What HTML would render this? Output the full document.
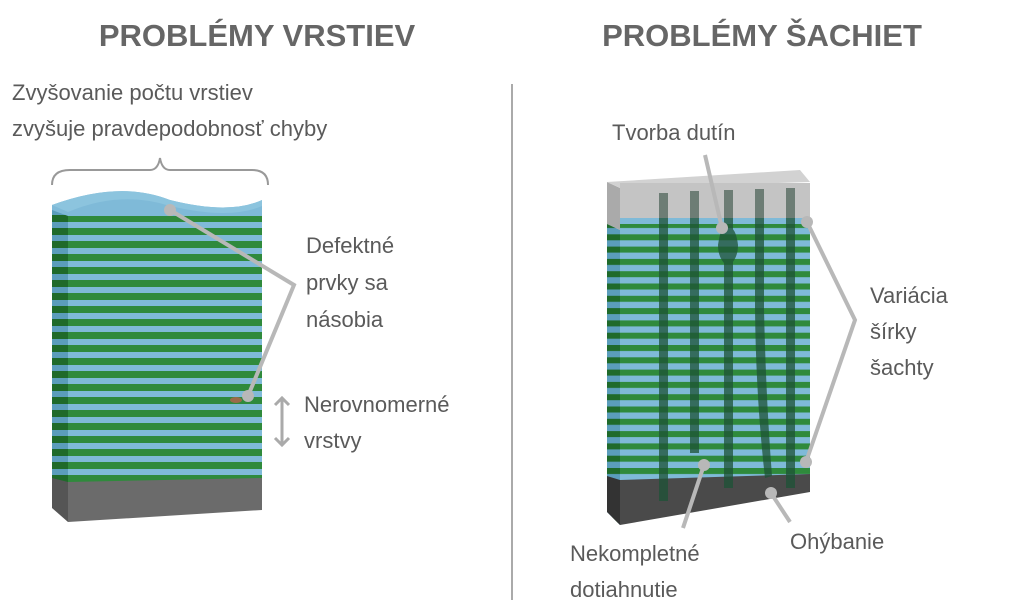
<!DOCTYPE html>
<html><head><meta charset="utf-8"><style>
html,body{margin:0;padding:0;background:#fff;}
svg{display:block}
text{font-family:"Liberation Sans",sans-serif;fill:#5a5a5a;}
.t{font-size:31px;font-weight:bold;fill:#666;}
.l{font-size:22px;}
</style></head><body>
<svg width="1024" height="616" viewBox="0 0 1024 616" xmlns="http://www.w3.org/2000/svg">
<defs>
<pattern id="st1" x="0" y="215" width="20" height="13" patternUnits="userSpaceOnUse">
<rect width="20" height="13" fill="#7fbad8"/><rect y="0" width="20" height="7" fill="#2f8a3c"/></pattern>
<pattern id="st1s" x="0" y="215" width="20" height="13" patternUnits="userSpaceOnUse">
<rect width="20" height="13" fill="#5b9dbb"/><rect y="0" width="20" height="7" fill="#1f6a2a"/></pattern>
<pattern id="st2" x="0" y="222" width="20" height="12.3" patternUnits="userSpaceOnUse">
<rect width="20" height="12.3" fill="#7fbad8"/><rect y="0" width="20" height="6" fill="#2f8a3c"/></pattern>
<pattern id="st2s" x="0" y="222" width="20" height="12.3" patternUnits="userSpaceOnUse">
<rect width="20" height="12.3" fill="#5b9dbb"/><rect y="0" width="20" height="6" fill="#1f6a2a"/></pattern>
</defs>
<text class="t" x="257" y="46" text-anchor="middle">PROBLÉMY VRSTIEV</text>
<text class="t" x="762" y="46" text-anchor="middle">PROBLÉMY ŠACHIET</text>
<line x1="512" y1="84" x2="512" y2="600" stroke="#aaa" stroke-width="2"/>
<text class="l" x="12" y="100">Zvyšovanie počtu vrstiev</text>
<text class="l" x="12" y="136">zvyšuje pravdepodobnosť chyby</text>
<path d="M52 185 Q52 170 70 170 L150 170 Q158 170 160 158 Q162 170 170 170 L252 170 Q268 170 268 185" fill="none" stroke="#999" stroke-width="2"/>
<!-- left block -->
<path d="M52 205 L68 215 L68 512 L52 500 Z" fill="url(#st1s)"/>
<rect x="68" y="212" width="194" height="270" fill="url(#st1)"/>
<path d="M52 205 Q120 180 170 200 Q230 215 262 200 L262 216 L68 216 L52 210 Z" fill="#7fbad8"/>
<path d="M52 205 Q120 180 170 200 Q230 215 262 200 L262 206 Q230 220 170 206 Q120 190 68 212 Z" fill="#8cc4de"/>
<path d="M52 478 L68 482 L68 522 L52 508 Z" fill="#555"/>
<path d="M68 482 L262 478 L262 510 L68 522 Z" fill="#6b6b6b"/>
<path d="M170 210 L294 285 L248 396" fill="none" stroke="#b8b8b8" stroke-width="4"/>
<circle cx="170" cy="210" r="6" fill="#b8b8b8"/>
<circle cx="248" cy="396" r="6" fill="#b8b8b8"/>
<ellipse cx="236" cy="400" rx="6" ry="3" fill="#9a6a4a"/>
<text class="l" x="306" y="253">Defektné</text>
<text class="l" x="306" y="290">prvky sa</text>
<text class="l" x="306" y="327">násobia</text>
<path d="M282 398 L282 445 M275 405 L282 398 L289 405 M275 438 L282 445 L289 438" fill="none" stroke="#aaa" stroke-width="3"/>
<text class="l" x="304" y="412">Nerovnomerné</text>
<text class="l" x="304" y="448">vrstvy</text>
<!-- right block -->
<path d="M607 182 L620 188 L620 230 L607 224 Z" fill="#aaa"/>
<path d="M607 182 L620 188 L810 182 L800 170 Z" fill="#d2d2d2"/>
<rect x="620" y="183" width="190" height="40" fill="#c4c4c4"/>
<path d="M607 224 L620 230 L620 525 L607 512 Z" fill="url(#st2s)"/>
<rect x="620" y="222" width="190" height="258" fill="url(#st2)"/>
<rect x="620" y="218" width="190" height="6" fill="#7fbad8"/>
<path d="M607 476 L620 480 L620 525 L607 512 Z" fill="#333"/>
<path d="M620 480 L810 474 L810 492 L620 525 Z" fill="#4a4a4a"/>
<g fill="#1d5236" opacity="0.75">
<rect x="659" y="193" width="9" height="308"/>
<rect x="690" y="191" width="9" height="262"/>
<rect x="724" y="190" width="9" height="298"/>
<rect x="755" y="189" width="9" height="120"/>
<path d="M755 309 L764 309 Q766 400 772 476 L765 478 Q756 400 755 309 Z"/>
<rect x="786" y="188" width="9" height="300"/>
<path d="M722 230 Q735 220 738 245 Q738 258 730 265 L726 265 Q718 258 718 245 Q720 232 722 230 Z"/>
</g>
<g fill="#888" opacity="0.6">
<rect x="659" y="193" width="9" height="25"/><rect x="690" y="191" width="9" height="27"/><rect x="724" y="190" width="9" height="28"/><rect x="755" y="189" width="9" height="29"/><rect x="786" y="188" width="9" height="30"/>
</g>
<g stroke="#b8b8b8" stroke-width="4" fill="none">
<path d="M705 155 L722 228"/>
<path d="M807 222 L855 320 L806 462"/>
<path d="M704 465 L683 528"/>
<path d="M771 493 L790 522"/>
</g>
<g fill="#b8b8b8"><circle cx="722" cy="228" r="6"/><circle cx="807" cy="222" r="6"/><circle cx="806" cy="462" r="6"/><circle cx="704" cy="465" r="6"/><circle cx="771" cy="493" r="6"/></g>
<text class="l" x="612" y="140">Tvorba dutín</text>
<text class="l" x="870" y="303">Variácia</text>
<text class="l" x="870" y="339">šírky</text>
<text class="l" x="870" y="375">šachty</text>
<text class="l" x="570" y="561">Nekompletné</text>
<text class="l" x="570" y="597">dotiahnutie</text>
<text class="l" x="790" y="549">Ohýbanie</text>
</svg>
</body></html>
